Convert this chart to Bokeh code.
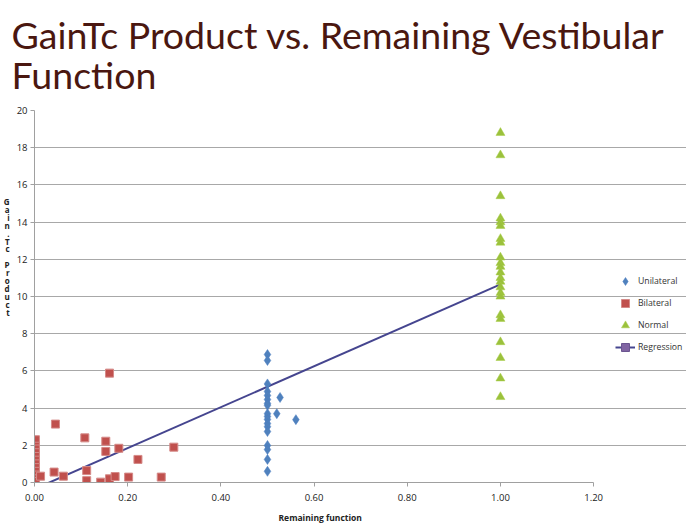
from bokeh.plotting import figure
from bokeh.models import (FixedTicker, NumeralTickFormatter, Legend, LegendItem,
                          Label, Title, Range1d)
from bokeh.embed import file_html
from bokeh.resources import INLINE

title_text = "GainTc Product vs. Remaining Vestibular\nFunction"
x_label = "Remaining function"
y_label = "G\na\ni\nn\n.\nT\nc\n\nP\nr\no\nd\nu\nc\nt"

x_ticks = [0.0, 0.2, 0.4, 0.6, 0.8, 1.0, 1.2]
y_ticks = [0, 2, 4, 6, 8, 10, 12, 14, 16, 18, 20]

uni_x = [0.5, 0.5, 0.5, 0.5, 0.5, 0.5, 0.5, 0.5, 0.5, 0.5, 0.5, 0.5, 0.5, 0.5,
         0.5, 0.5, 0.5, 0.5, 0.527, 0.52, 0.561]
uni_y = [6.88, 6.56, 5.3, 4.89, 4.68, 4.46, 4.25, 4.15, 3.7, 3.55, 3.39, 3.17,
         3.0, 2.74, 1.99, 1.77, 1.24, 0.6, 4.57, 3.7, 3.38]

bil_x = [0.002, 0.002, 0.002, 0.002, 0.002, 0.002, 0.002, 0.002, 0.002, 0.002,
         0.002, 0.002, 0.013, 0.042, 0.045, 0.062, 0.108, 0.112, 0.112, 0.142,
         0.153, 0.153, 0.161, 0.161, 0.173, 0.181, 0.202, 0.222, 0.272, 0.299]
bil_y = [2.3, 1.95, 1.8, 1.6, 1.4, 1.2, 1.0, 0.8, 0.6, 0.4, 0.2, 0.05,
         0.34, 0.56, 3.14, 0.34, 2.4, 0.64, 0.1, 0.02,
         2.22, 1.67, 5.88, 0.2, 0.32, 1.84, 0.29, 1.24, 0.29, 1.9]

nor_x = [1.0, 1.0, 1.0, 1.0, 1.0, 1.0, 1.0, 1.0, 1.0, 1.0, 1.0, 1.0, 1.0, 1.0,
         1.0, 1.0, 1.0, 1.0, 1.0, 1.0, 1.0, 1.0, 1.0]
nor_y = [18.8, 17.6, 15.4, 14.2, 14.0, 13.8, 13.1, 12.9, 12.1, 11.8, 11.6, 11.3,
         11.0, 10.8, 10.5, 10.2, 10.0, 9.0, 8.8, 7.55, 6.7, 5.6, 4.6]

reg_x = [0.0, 1.0]
reg_y = [-0.35, 10.65]

FONT = "Open Sans"
W, H = 686, 528
# the frame runs to the right edge so the legend (right of the axis end) is not clipped;
# axis and grid are bounded to 0..1.2
X_AXIS_END = 1.2
X_VIEW_END = X_AXIS_END * (W - 33) / (593 - 33)

p = figure(width=W, height=H, output_backend="svg", toolbar_location=None,
           x_range=Range1d(0, X_VIEW_END), y_range=Range1d(0, 20),
           min_border_left=33, min_border_right=0, min_border_bottom=46,
           min_border_top=110, outline_line_color=None,
           background_fill_color="white", border_fill_color="white")

p.title = Title(text=title_text, text_font="Lato", text_font_size="37.5px",
                text_font_style="normal", text_color="#4a1710",
                text_line_height=0.88, align="left", offset=-23, standoff=23,
                vertical_align="top")

# axes
p.xaxis.ticker = FixedTicker(ticks=x_ticks)
p.xaxis.formatter = NumeralTickFormatter(format="0.00")
p.xaxis.bounds = (0, X_AXIS_END)
p.yaxis.ticker = FixedTicker(ticks=y_ticks)
p.ygrid.ticker = FixedTicker(ticks=y_ticks)
p.ygrid.bounds = (0, X_AXIS_END)
p.xgrid.grid_line_color = None
p.ygrid.grid_line_color = "#a8a8a8"
p.ygrid.grid_line_width = 1

for ax in (p.xaxis[0], p.yaxis[0]):
    ax.axis_line_color = "#a0a0a0"
    ax.major_tick_line_color = "#a0a0a0"
    ax.major_tick_out = 4
    ax.major_tick_in = 0
    ax.minor_tick_line_color = None
    ax.major_label_text_font = FONT
    ax.major_label_text_font_size = "9.5px"
    ax.major_label_text_color = "#222222"
    ax.major_label_standoff = 3
p.xaxis.major_label_standoff = 7

# x-axis title placed under the axis, starting where the reference's does
p.add_layout(Title(text=x_label, text_font=FONT, text_font_size="8.5px",
                   text_font_style="bold", text_color="#222222",
                   align="left", offset=244, standoff=12), "below")

ya = p.yaxis[0]
if "axis_label_orientation" in ya.properties():
    # trailing blank lines lift the stacked label above the frame's centre
    ya.axis_label = y_label + "\n" * 10
    ya.axis_label_orientation = "horizontal"
    ya.axis_label_standoff = 4
    ya.axis_label_text_font = FONT
    ya.axis_label_text_font_size = "8px"
    ya.axis_label_text_font_style = "bold"
    ya.axis_label_text_color = "#222222"
    ya.axis_label_text_line_height = 0.72
else:
    p.add_layout(Label(x=6, y=H - 202, x_units="screen", y_units="screen",
                       text=y_label, text_font=FONT, text_font_size="8px",
                       text_font_style="bold", text_color="#222222",
                       text_align="center", text_baseline="top",
                       text_line_height=0.93))

# data
r_reg = p.line(reg_x, reg_y, line_color="#45458f", line_width=2)
# marker of the regression series: shown only in the legend, as in the reference
r_reg_m = p.scatter(reg_x, reg_y, marker="square", fill_color="#8064a2",
                    line_color="#6b5590", size=7, visible=False)
r_uni = p.scatter(uni_x, uni_y, marker="diamond", size=10,
                  fill_color="#4f81bd", line_color="#4a7cc0", line_width=0.5)
r_bil = p.scatter(bil_x, bil_y, marker="square", size=8,
                  fill_color="#c0504d", line_color="#d58a88", line_width=1)
r_nor = p.scatter(nor_x, nor_y, marker="triangle", size=9,
                  fill_color="#9bc13c", line_color="#a6cc45", line_width=0.5)

legend = Legend(items=[
    LegendItem(label="Unilateral", renderers=[r_uni]),
    LegendItem(label="Bilateral", renderers=[r_bil]),
    LegendItem(label="Normal", renderers=[r_nor]),
    LegendItem(label="Regression", renderers=[r_reg, r_reg_m]),
], location=(581, 125), orientation="vertical",
    border_line_color=None, background_fill_alpha=0,
    inactive_fill_alpha=0,
    label_text_font=FONT, label_text_font_size="8.7px",
    label_text_color="#333333", glyph_width=20, glyph_height=20,
    label_height=20, spacing=2, padding=0, margin=0, label_standoff=3)
p.add_layout(legend, "center")

open("out.html", "w").write(file_html(p, INLINE))
